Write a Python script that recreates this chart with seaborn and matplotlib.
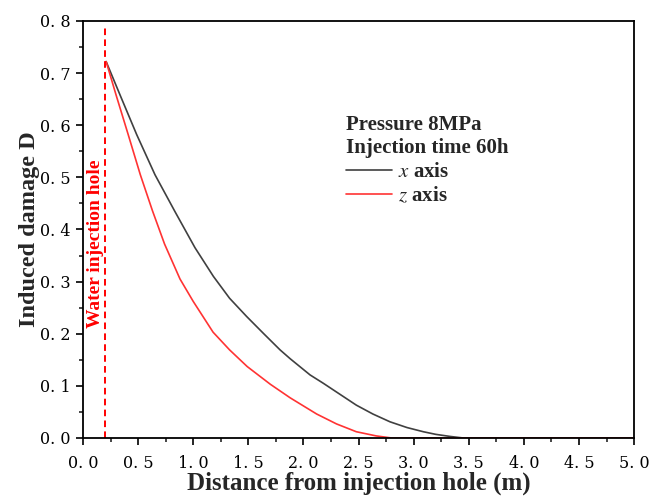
import matplotlib
matplotlib.use("Agg")
import matplotlib.pyplot as plt
import seaborn as sns
import pandas as pd
from matplotlib.ticker import MultipleLocator, FuncFormatter
from matplotlib.lines import Line2D

# Data
x_axis_dist = [0.21, 0.336, 0.487, 0.653, 0.835, 1.016, 1.183, 1.33, 1.485, 1.64, 1.788,
               1.88, 2.06, 2.18, 2.33, 2.48, 2.63, 2.786, 2.94, 3.088, 3.2, 3.33, 3.45,
               3.6, 4.0, 4.5, 5.0]
x_axis_D = [0.722, 0.658, 0.582, 0.505, 0.434, 0.365, 0.310, 0.268, 0.233, 0.200, 0.169,
            0.152, 0.121, 0.105, 0.084, 0.063, 0.046, 0.031, 0.020, 0.012, 0.007, 0.003,
            0.0, 0.0, 0.0, 0.0, 0.0]
z_axis_dist = [0.21, 0.30, 0.41, 0.52, 0.63, 0.74, 0.88, 1.0, 1.18, 1.33, 1.49, 1.70,
               1.88, 2.12, 2.30, 2.48, 2.66, 2.80, 3.0, 3.5, 4.0, 4.5, 5.0]
z_axis_D = [0.722, 0.658, 0.582, 0.505, 0.436, 0.372, 0.305, 0.262, 0.203, 0.169, 0.137,
            0.103, 0.077, 0.046, 0.027, 0.012, 0.004, 0.0, 0.0, 0.0, 0.0, 0.0, 0.0]
hole_x = 0.2

legend_title = "Pressure 8MPa\nInjection time 60h"
series_labels = ["$x$ axis", "$z$ axis"]
colors = ["#404040", "#FF3333"]

sns.set_style("ticks")
plt.rcParams["font.family"] = ["Liberation Serif", "DejaVu Serif"]
plt.rcParams["mathtext.fontset"] = "stix"

df = pd.concat([
    pd.DataFrame({"dist": x_axis_dist, "D": x_axis_D, "series": series_labels[0]}),
    pd.DataFrame({"dist": z_axis_dist, "D": z_axis_D, "series": series_labels[1]}),
])

fig = plt.figure(figsize=(6.51, 4.98), dpi=100)
ax = fig.add_axes([0.1275, 0.1205, 0.8465, 0.8375])

sns.lineplot(data=df, x="dist", y="D", hue="series", palette=colors,
             linewidth=1.2, ax=ax, legend=False, sort=False)

ax.axvline(hole_x, ymax=0.99, color="#FF0000", linestyle=(0, (3.4, 2.2)), linewidth=1.4)
ax.text(0.11, 0.372, "Water injection hole", rotation=90, color="#FF0000",
        fontsize=14, fontweight="bold", ha="center", va="center")

ax.set_xlim(0, 5)
ax.set_ylim(0, 0.8)
ax.xaxis.set_major_locator(MultipleLocator(0.5))
ax.xaxis.set_minor_locator(MultipleLocator(0.25))
ax.yaxis.set_major_locator(MultipleLocator(0.1))
ax.yaxis.set_minor_locator(MultipleLocator(0.05))
fmt = FuncFormatter(lambda v, p: f"{v:.1f}".replace(".", ". "))
ax.xaxis.set_major_formatter(fmt)
ax.yaxis.set_major_formatter(fmt)
ax.tick_params(axis="both", which="major", direction="out", length=5, width=1.2,
               labelsize=11.5, colors="black", pad=4)
ax.tick_params(axis="x", which="major", pad=7)
ax.tick_params(axis="both", which="minor", direction="out", length=3, width=1.2)
for lab in ax.get_xticklabels() + ax.get_yticklabels():
    lab.set_family("DejaVu Serif")
for s in ax.spines.values():
    s.set_linewidth(1.3)
    s.set_color("black")

ax.set_xlabel("Distance from injection hole (m)", fontsize=18, fontweight="bold", labelpad=0)
ax.set_ylabel("Induced damage D", fontsize=17.5, fontweight="bold", labelpad=0)

handles = [Line2D([0], [0], color=c, lw=1.2) for c in colors]
leg = ax.legend(handles, series_labels, title=legend_title, loc="upper left",
                bbox_to_anchor=(0.478, 0.775), frameon=False, alignment="left",
                handlelength=2.2, handletextpad=0.3, labelspacing=0.2,
                borderaxespad=0, borderpad=0,
                prop={"size": 15, "weight": "bold"},
                title_fontproperties={"size": 15, "weight": "bold"})

fig.savefig("out.png", dpi=100)
